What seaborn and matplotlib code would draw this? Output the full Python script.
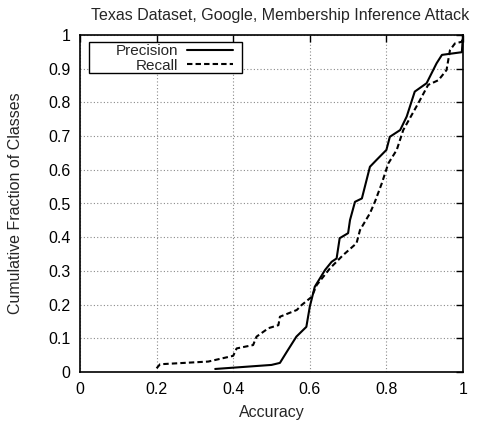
import numpy as np
import pandas as pd
import seaborn as sns
import matplotlib
matplotlib.use("Agg")
import matplotlib.pyplot as plt
from matplotlib.patches import Rectangle
from matplotlib.ticker import FuncFormatter

sns.set_theme(style="white")
plt.rcParams["font.family"] = ["Liberation Sans", "DejaVu Sans"]

# CDF points
prec_x = [0.353, 0.500, 0.522, 0.540, 0.565, 0.591, 0.600, 0.613, 0.640, 0.657,
          0.670, 0.678, 0.700, 0.705, 0.718, 0.736, 0.757, 0.774, 0.800, 0.809,
          0.836, 0.853, 0.874, 0.905, 0.931, 0.945, 0.997, 1.000]
prec_y = [0.009, 0.021, 0.027, 0.060, 0.105, 0.134, 0.194, 0.253, 0.303, 0.327,
          0.337, 0.397, 0.412, 0.451, 0.505, 0.515, 0.609, 0.629, 0.659, 0.698,
          0.718, 0.758, 0.832, 0.857, 0.916, 0.941, 0.949, 1.000]

rec_x = [0.200, 0.209, 0.335, 0.400, 0.409, 0.452, 0.461, 0.492, 0.518, 0.522,
         0.566, 0.579, 0.605, 0.618, 0.653, 0.687, 0.722, 0.731, 0.757, 0.770,
         0.788, 0.805, 0.827, 0.844, 0.883, 0.909, 0.936, 0.957, 0.966, 0.979,
         0.997, 1.000]
rec_y = [0.011, 0.023, 0.031, 0.048, 0.070, 0.080, 0.105, 0.130, 0.139, 0.164,
         0.184, 0.199, 0.223, 0.258, 0.308, 0.347, 0.382, 0.421, 0.471, 0.505,
         0.560, 0.619, 0.659, 0.718, 0.797, 0.852, 0.866, 0.896, 0.955, 0.975,
         0.980, 1.000]

df_p = pd.DataFrame({"acc": prec_x, "frac": prec_y})
df_r = pd.DataFrame({"acc": rec_x, "frac": rec_y})

fs = 11.5
fig = plt.figure(figsize=(4.79, 4.23), dpi=100)
ax = fig.add_axes([80 / 479, 1 - 372 / 423, 383 / 479, 337 / 423])

sns.lineplot(data=df_p, x="acc", y="frac", ax=ax, color="black", linewidth=1.5,
             sort=False, estimator=None, label="Precision")
sns.lineplot(data=df_r, x="acc", y="frac", ax=ax, color="black", linewidth=1.5,
             sort=False, estimator=None, label="Recall")
ax.lines[1].set_linestyle((0, (2.6, 1.5)))
for ln in ax.lines:
    ln.set_clip_on(False)
    ln.set_zorder(3)

ax.set_xlim(0, 1)
ax.set_ylim(0, 1)
ax.set_xticks(np.arange(0, 1.01, 0.2))
ax.set_yticks(np.arange(0, 1.01, 0.1))
fmt = FuncFormatter(lambda v, p: "%g" % round(v, 2))
ax.xaxis.set_major_formatter(fmt)
ax.yaxis.set_major_formatter(fmt)
ax.tick_params(direction="in", length=5, width=1, top=True, right=True,
               labelsize=fs, colors="black", pad=7)
ax.grid(True, linestyle=(0, (1, 2)), color="#8a8a8a", linewidth=0.8)
for s in ax.spines.values():
    s.set_color("black")
    s.set_linewidth(1.2)
    s.set_zorder(4)

ax.set_xlabel("Accuracy", fontsize=fs, labelpad=6)
ax.set_ylabel("Cumulative Fraction of Classes", fontsize=fs, labelpad=18)
ax.set_title("Texas Dataset, Google, Membership Inference Attack", fontsize=fs,
             x=0.522, pad=11)

# legend box drawn like gnuplot's key
ax.add_patch(Rectangle((9 / 383, 299 / 337), 153 / 383, 31 / 337,
                       transform=ax.transAxes, facecolor="white",
                       edgecolor="black", linewidth=1.0, zorder=4.5))
leg = ax.legend(loc="upper right", bbox_to_anchor=(153 / 383, 328 / 337),
                markerfirst=False, frameon=False, fontsize=11, handlelength=3.0,
                handletextpad=0.6, labelspacing=0.05, borderpad=0,
                borderaxespad=0)
leg.set_zorder(5)

fig.savefig("out.png", dpi=100)
